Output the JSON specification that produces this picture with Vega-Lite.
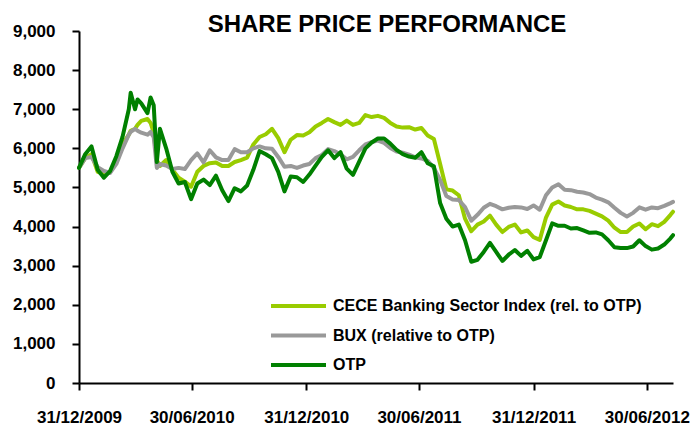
{
  "$schema": "https://vega.github.io/schema/vega-lite/v6.json",
  "width": 594,
  "height": 352,
  "autosize": "none",
  "padding": {"left": 79, "top": 31, "right": 23, "bottom": 43},
  "background": "white",
  "title": {"text": "SHARE PRICE PERFORMANCE", "font": "Liberation Sans", "fontSize": 24, "fontWeight": "bold", "color": "black", "anchor": "middle", "dx": 11, "offset": 0, "dy": 15},
  "config": {"view": {"stroke": null}, "font": "Liberation Sans"},
  "data": {"values": [
    {"d":"2009/12/31","c":5500,"b":5500,"o":5500},
    {"d":"2010/01/10","c":5750,"b":5750,"o":5850},
    {"d":"2010/01/20","c":5850,"b":5780,"o":6050},
    {"d":"2010/01/30","c":5400,"b":5520,"o":5450},
    {"d":"2010/02/09","c":5350,"b":5420,"o":5250},
    {"d":"2010/02/19","c":5400,"b":5370,"o":5420},
    {"d":"2010/03/01","c":5650,"b":5600,"o":5800},
    {"d":"2010/03/11","c":6100,"b":6000,"o":6300},
    {"d":"2010/03/21","c":6350,"b":6350,"o":7000},
    {"d":"2010/03/24","c":6450,"b":6420,"o":7420},
    {"d":"2010/03/31","c":6500,"b":6500,"o":7000},
    {"d":"2010/04/04","c":6600,"b":6450,"o":7250},
    {"d":"2010/04/10","c":6700,"b":6400,"o":7150},
    {"d":"2010/04/20","c":6750,"b":6350,"o":6900},
    {"d":"2010/04/25","c":6650,"b":6420,"o":7300},
    {"d":"2010/04/30","c":6400,"b":6280,"o":7100},
    {"d":"2010/05/05","c":5700,"b":5500,"o":5650},
    {"d":"2010/05/10","c":5550,"b":5600,"o":6500},
    {"d":"2010/05/20","c":5700,"b":5560,"o":6000},
    {"d":"2010/05/30","c":5450,"b":5470,"o":5400},
    {"d":"2010/06/09","c":5250,"b":5500,"o":5100},
    {"d":"2010/06/19","c":5150,"b":5470,"o":5140},
    {"d":"2010/06/29","c":5020,"b":5700,"o":4700},
    {"d":"2010/07/09","c":5400,"b":5870,"o":5100},
    {"d":"2010/07/19","c":5550,"b":5640,"o":5200},
    {"d":"2010/07/29","c":5620,"b":5950,"o":5060},
    {"d":"2010/08/08","c":5640,"b":5770,"o":5300},
    {"d":"2010/08/18","c":5550,"b":5700,"o":4930},
    {"d":"2010/08/28","c":5550,"b":5700,"o":4650},
    {"d":"2010/09/07","c":5650,"b":5980,"o":4980},
    {"d":"2010/09/17","c":5700,"b":5900,"o":4900},
    {"d":"2010/09/27","c":5760,"b":5900,"o":5050},
    {"d":"2010/10/07","c":6100,"b":6000,"o":5450},
    {"d":"2010/10/17","c":6290,"b":6050,"o":5930},
    {"d":"2010/10/27","c":6360,"b":6000,"o":5850},
    {"d":"2010/11/06","c":6500,"b":5990,"o":5750},
    {"d":"2010/11/16","c":6260,"b":5780,"o":5400},
    {"d":"2010/11/26","c":5900,"b":5530,"o":4900},
    {"d":"2010/12/06","c":6220,"b":5550,"o":5280},
    {"d":"2010/12/16","c":6340,"b":5500,"o":5260},
    {"d":"2010/12/26","c":6330,"b":5560,"o":5140},
    {"d":"2011/01/05","c":6410,"b":5600,"o":5330},
    {"d":"2011/01/15","c":6560,"b":5750,"o":5560},
    {"d":"2011/01/25","c":6650,"b":5830,"o":5780},
    {"d":"2011/02/04","c":6750,"b":5980,"o":5950},
    {"d":"2011/02/14","c":6670,"b":5930,"o":5750},
    {"d":"2011/02/24","c":6600,"b":5850,"o":5900},
    {"d":"2011/03/06","c":6710,"b":5720,"o":5480},
    {"d":"2011/03/16","c":6600,"b":5780,"o":5320},
    {"d":"2011/03/26","c":6650,"b":5950,"o":5660},
    {"d":"2011/04/05","c":6850,"b":6100,"o":6000},
    {"d":"2011/04/15","c":6800,"b":6160,"o":6150},
    {"d":"2011/04/25","c":6830,"b":6200,"o":6250},
    {"d":"2011/05/05","c":6780,"b":6140,"o":6250},
    {"d":"2011/05/15","c":6650,"b":6010,"o":6120},
    {"d":"2011/05/25","c":6560,"b":5920,"o":5960},
    {"d":"2011/06/04","c":6530,"b":5890,"o":5850},
    {"d":"2011/06/14","c":6540,"b":5840,"o":5790},
    {"d":"2011/06/24","c":6480,"b":5770,"o":5760},
    {"d":"2011/07/04","c":6520,"b":5740,"o":5900},
    {"d":"2011/07/14","c":6330,"b":5680,"o":5620},
    {"d":"2011/07/24","c":6240,"b":5500,"o":5540},
    {"d":"2011/08/03","c":5600,"b":5190,"o":4600},
    {"d":"2011/08/13","c":4950,"b":4780,"o":4200},
    {"d":"2011/08/23","c":4920,"b":4690,"o":4000},
    {"d":"2011/09/02","c":4800,"b":4680,"o":4050},
    {"d":"2011/09/12","c":4200,"b":4500,"o":3650},
    {"d":"2011/09/22","c":3880,"b":4150,"o":3100},
    {"d":"2011/10/02","c":4050,"b":4300,"o":3150},
    {"d":"2011/10/12","c":4130,"b":4480,"o":3350},
    {"d":"2011/10/22","c":4280,"b":4580,"o":3580},
    {"d":"2011/11/01","c":4050,"b":4520,"o":3350},
    {"d":"2011/11/11","c":3860,"b":4440,"o":3120},
    {"d":"2011/11/21","c":3990,"b":4480,"o":3280},
    {"d":"2011/12/01","c":4050,"b":4500,"o":3400},
    {"d":"2011/12/11","c":3850,"b":4490,"o":3250},
    {"d":"2011/12/21","c":3900,"b":4450,"o":3380},
    {"d":"2011/12/31","c":3730,"b":4540,"o":3160},
    {"d":"2012/01/10","c":3660,"b":4430,"o":3220},
    {"d":"2012/01/20","c":4230,"b":4800,"o":3650},
    {"d":"2012/01/30","c":4560,"b":5000,"o":4080},
    {"d":"2012/02/09","c":4640,"b":5080,"o":4020},
    {"d":"2012/02/19","c":4540,"b":4940,"o":4020},
    {"d":"2012/02/29","c":4500,"b":4930,"o":3950},
    {"d":"2012/03/10","c":4440,"b":4890,"o":3960},
    {"d":"2012/03/20","c":4440,"b":4870,"o":3900},
    {"d":"2012/03/30","c":4400,"b":4830,"o":3840},
    {"d":"2012/04/09","c":4330,"b":4740,"o":3850},
    {"d":"2012/04/19","c":4260,"b":4690,"o":3800},
    {"d":"2012/04/29","c":4150,"b":4620,"o":3650},
    {"d":"2012/05/09","c":3970,"b":4480,"o":3470},
    {"d":"2012/05/19","c":3860,"b":4350,"o":3450},
    {"d":"2012/05/29","c":3860,"b":4260,"o":3450},
    {"d":"2012/06/08","c":4000,"b":4350,"o":3490},
    {"d":"2012/06/18","c":4080,"b":4490,"o":3650},
    {"d":"2012/06/28","c":3930,"b":4430,"o":3500},
    {"d":"2012/07/08","c":4060,"b":4490,"o":3410},
    {"d":"2012/07/18","c":4010,"b":4470,"o":3440},
    {"d":"2012/07/28","c":4120,"b":4530,"o":3540},
    {"d":"2012/08/07","c":4300,"b":4600,"o":3700},
    {"d":"2012/08/11","c":4380,"b":4630,"o":3780}
  ]},
  "transform": [{"fold": ["c", "b", "o"], "as": ["s", "v"]}],
  "mark": {"type": "line", "strokeWidth": 4, "strokeJoin": "round", "strokeCap": "round"},
  "encoding": {
    "x": {
      "field": "d", "type": "temporal",
      "scale": {"domain": [{"year": 2009, "month": 12, "date": 31}, {"year": 2012, "month": 8, "date": 11}]},
      "axis": {
        "title": null, "format": "%d/%m/%Y", "grid": false,
        "values": [{"year": 2009, "month": 12, "date": 31}, {"year": 2010, "month": 6, "date": 30}, {"year": 2010, "month": 12, "date": 31}, {"year": 2011, "month": 6, "date": 30}, {"year": 2011, "month": 12, "date": 31}, {"year": 2012, "month": 6, "date": 30}],
        "domainColor": "black", "domainWidth": 2, "tickColor": "black", "tickWidth": 2, "tickSize": 7,
        "labelFont": "Liberation Sans", "labelFontSize": 17, "labelFontWeight": "bold", "labelColor": "black",
        "labelPadding": 19, "labelFlush": false, "labelOverlap": false
      }
    },
    "y": {
      "field": "v", "type": "quantitative",
      "scale": {"domain": [0, 9000], "nice": false},
      "axis": {
        "title": null, "format": ",d", "grid": false, "values": [0,1000,2000,3000,4000,5000,6000,7000,8000,9000],
        "domainColor": "black", "domainWidth": 2, "tickColor": "black", "tickWidth": 2, "tickSize": 7,
        "labelFont": "Liberation Sans", "labelFontSize": 17, "labelFontWeight": "bold", "labelColor": "black",
        "labelPadding": 17
      }
    },
    "color": {
      "field": "s", "type": "nominal",
      "scale": {"domain": ["c", "b", "o"], "range": ["#99CC00", "#999999", "#008000"]},
      "legend": {
        "title": null, "orient": "none", "legendX": 190, "legendY": 265, "direction": "vertical",
        "symbolType": "stroke", "symbolSize": 3025, "symbolStrokeWidth": 4, "clipHeight": 20,
        "labelFont": "Liberation Sans", "labelFontSize": 16, "labelFontWeight": "bold", "labelColor": "black",
        "labelLimit": 500, "rowPadding": 9.5, "labelOffset": 5,
        "labelExpr": "datum.label == 'c' ? 'CECE Banking Sector Index (rel. to OTP)' : datum.label == 'b' ? 'BUX (relative to OTP)' : 'OTP'"
      }
    }
  }
}
